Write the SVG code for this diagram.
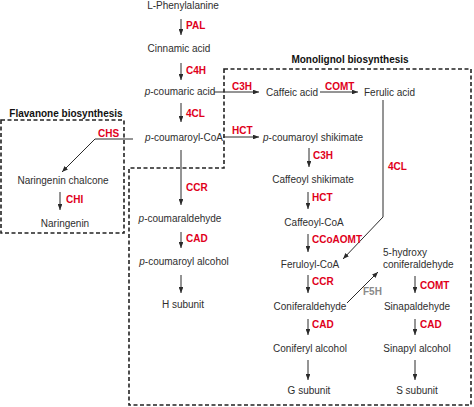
<svg xmlns="http://www.w3.org/2000/svg" width="474" height="407" viewBox="0 0 474 407">
<defs>
<marker id="ah" viewBox="0 0 10 8" refX="10" refY="4" markerWidth="6" markerHeight="4.8" markerUnits="userSpaceOnUse" orient="auto">
<path d="M0,0 L10,4 L0,8 z" fill="#2a2a2a"/>
</marker>
</defs>
<style>
text{font-family:"Liberation Sans",Arial,sans-serif;font-size:10px;fill:#2e2e2e}
.m{text-anchor:middle}
.e{font-weight:bold;fill:#e0001b}
.g{font-weight:bold;fill:#8a8a8a}
.t{font-weight:bold;fill:#111}
.a{stroke:#2a2a2a;stroke-width:1;fill:none;marker-end:url(#ah)}
.box{stroke:#222;stroke-width:1.6;fill:none;stroke-dasharray:4 2.5}
</style>
<rect width="474" height="407" fill="#fff"/>
<g id="boxes">
<rect id="flavanone-box" class="box" x="1" y="120" width="123" height="113"/>
<path id="monolignol-box" class="box" d="M224,69 L471,69 L471,405 L129,405 L129,168 L224,168 Z"/>
<text class="t m" x="66" y="116.5">Flavanone biosynthesis</text>
<text class="t m" x="350" y="62.5">Monolignol biosynthesis</text>
</g>
<g id="connectors">
<line class="a" x1="181" y1="19" x2="181" y2="35"/>
<line class="a" x1="181" y1="63" x2="181" y2="80"/>
<line class="a" x1="181" y1="103" x2="181" y2="122"/>
<line class="a" x1="181" y1="150" x2="181" y2="205"/>
<line class="a" x1="181" y1="232" x2="181" y2="248"/>
<line class="a" x1="181" y1="275" x2="181" y2="293"/>
<polyline class="a" points="133,139 95,139 62,172"/>
<line class="a" x1="60" y1="192" x2="60" y2="210"/>
<line class="a" x1="214" y1="92" x2="259" y2="92"/>
<line class="a" x1="320" y1="92" x2="358" y2="92"/>
<polyline class="a" points="383,100 383,217 343,259"/>
<line class="a" x1="223" y1="137" x2="259" y2="137"/>
<line class="a" x1="309" y1="148" x2="309" y2="167"/>
<line class="a" x1="308" y1="192" x2="308" y2="209"/>
<line class="a" x1="308" y1="234" x2="308" y2="252"/>
<line class="a" x1="308" y1="275" x2="308" y2="293"/>
<line class="a" x1="347" y1="303" x2="378" y2="272"/>
<line class="a" x1="415" y1="276" x2="415" y2="293"/>
<line class="a" x1="308" y1="319" x2="308" y2="335"/>
<line class="a" x1="415" y1="319" x2="415" y2="335"/>
<line class="a" x1="308" y1="360" x2="308" y2="380"/>
<line class="a" x1="415" y1="360" x2="415" y2="380"/>
</g>
<g id="enzymes">
<text class="e" x="186" y="28.5">PAL</text>
<text class="e" x="186" y="73.5">C4H</text>
<text class="e" x="186" y="116.5">4CL</text>
<text class="e" x="186" y="190.5">CCR</text>
<text class="e" x="186" y="241.5">CAD</text>
<text class="e" x="98" y="136.5">CHS</text>
<text class="e" x="66" y="202.5">CHI</text>
<text class="e" x="232" y="89.5">C3H</text>
<text class="e" x="325" y="89.5">COMT</text>
<text class="e" x="388" y="169.5">4CL</text>
<text class="e" x="232" y="133.5">HCT</text>
<text class="e" x="313" y="158.5">C3H</text>
<text class="e" x="312" y="200.5">HCT</text>
<text class="e" x="312" y="242.5">CCoAOMT</text>
<text class="e" x="312" y="284.5">CCR</text>
<text class="g" x="363" y="294.5">F5H</text>
<text class="e" x="420" y="288.5">COMT</text>
<text class="e" x="312" y="327.5">CAD</text>
<text class="e" x="420" y="327.5">CAD</text>
</g>
<g id="n-phe"><text class="m" x="183" y="9">L-Phenylalanine</text></g>
<g id="n-cinnamic"><text class="m" x="179" y="51.5">Cinnamic acid</text></g>
<g id="n-pcoumaric"><text class="m" x="180" y="94.5"><tspan font-style="italic">p</tspan>-coumaric acid</text></g>
<g id="n-pcoumaroylcoa"><text class="m" x="184" y="140.5"><tspan font-style="italic">p</tspan>-coumaroyl-CoA</text></g>
<g id="n-pcoumaraldehyde"><text class="m" x="180" y="221.5"><tspan font-style="italic">p</tspan>-coumaraldehyde</text></g>
<g id="n-pcoumaroylalcohol"><text class="m" x="184" y="264.5"><tspan font-style="italic">p</tspan>-coumaroyl alcohol</text></g>
<g id="n-h"><text class="m" x="183" y="307.5">H subunit</text></g>
<g id="n-chalcone"><text class="m" x="63" y="183.5">Naringenin chalcone</text></g>
<g id="n-naringenin"><text class="m" x="65" y="226.5">Naringenin</text></g>
<g id="n-caffeic"><text x="266" y="95.5">Caffeic acid</text></g>
<g id="n-ferulic"><text x="364" y="95.5">Ferulic acid</text></g>
<g id="n-pcshikimate"><text x="263" y="140.5"><tspan font-style="italic">p</tspan>-coumaroyl shikimate</text></g>
<g id="n-cshikimate"><text class="m" x="313" y="182.5">Caffeoyl shikimate</text></g>
<g id="n-caffeoylcoa"><text class="m" x="314" y="225.5">Caffeoyl-CoA</text></g>
<g id="n-feruloylcoa"><text class="m" x="310" y="267.5">Feruloyl-CoA</text></g>
<g id="n-coniferaldehyde"><text class="m" x="310" y="309.5">Coniferaldehyde</text></g>
<g id="n-5hydroxy"><text x="383" y="255.5">5-hydroxy</text><text x="383" y="267.5">coniferaldehyde</text></g>
<g id="n-sinapaldehyde"><text class="m" x="417" y="309.5">Sinapaldehyde</text></g>
<g id="n-coniferyl"><text class="m" x="310" y="351.5">Coniferyl alcohol</text></g>
<g id="n-sinapyl"><text class="m" x="417" y="351.5">Sinapyl alcohol</text></g>
<g id="n-g"><text class="m" x="309" y="393.5">G subunit</text></g>
<g id="n-s"><text class="m" x="417" y="393.5">S subunit</text></g>
</svg>
